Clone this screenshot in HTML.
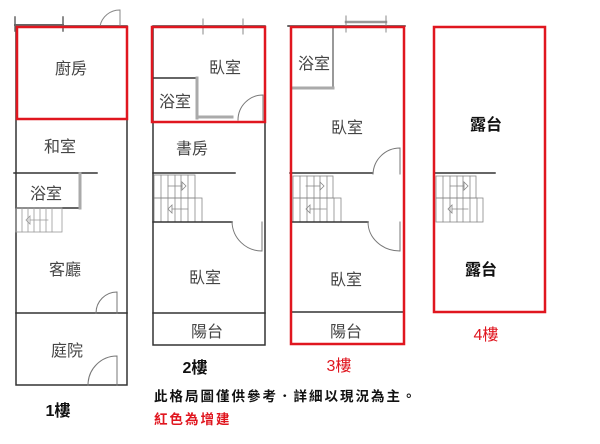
<!DOCTYPE html>
<html><head><meta charset="utf-8"><style>
html,body{margin:0;padding:0;background:#fff;width:600px;height:444px;overflow:hidden}
svg text{font-family:"Liberation Sans","Noto Sans CJK TC",sans-serif}
</style></head><body>
<svg width="600" height="444" viewBox="0 0 600 444" xmlns="http://www.w3.org/2000/svg">
<g fill="none" stroke-linecap="square">
<!-- 1F -->
<rect x="16" y="26" width="111" height="359" stroke="#333" stroke-width="1.5"/>
<line x1="15" y1="25" x2="63" y2="25" stroke="#666" stroke-width="2"/>
<line x1="15" y1="17" x2="15" y2="31" stroke="#666" stroke-width="1.5"/>
<line x1="63" y1="17" x2="63" y2="31" stroke="#666" stroke-width="1.5"/>
<path d="M100 26 A20 20 0 0 1 120 10 L120 26" stroke="#888" stroke-width="1"/>
<line x1="14" y1="173" x2="97" y2="173" stroke="#333" stroke-width="1.5"/>
<line x1="16" y1="208" x2="80" y2="208" stroke="#333" stroke-width="1.5"/>
<line x1="80" y1="174" x2="80" y2="208" stroke="#aaa" stroke-width="3"/>
<g stroke="#999" stroke-width="0.8">
<rect x="16" y="208" width="46" height="24"/>
<line x1="22" y1="208" x2="22" y2="232"/><line x1="28" y1="208" x2="28" y2="232"/><line x1="34" y1="208" x2="34" y2="232"/><line x1="40" y1="208" x2="40" y2="232"/><line x1="46" y1="208" x2="46" y2="232"/><line x1="52" y1="208" x2="52" y2="232"/>
<line x1="30" y1="220" x2="48" y2="220"/><path d="M30 216 L26 220 L30 224 Z"/>
</g>
<line x1="16" y1="313" x2="127" y2="313" stroke="#333" stroke-width="1.5"/>
<path d="M96 313 A21 21 0 0 1 117 292 L117 313" stroke="#777" stroke-width="1"/>
<path d="M88 385 A29 29 0 0 1 117 356 L117 385" stroke="#777" stroke-width="1"/>
<rect x="17" y="27" width="110" height="92" stroke="#e0161f" stroke-width="2.5"/>

<!-- 2F -->
<rect x="153" y="26" width="112" height="319" stroke="#333" stroke-width="1.5"/>
<line x1="203" y1="19" x2="203" y2="34" stroke="#888" stroke-width="1"/>
<line x1="243" y1="19" x2="243" y2="34" stroke="#888" stroke-width="1"/>
<line x1="153" y1="78" x2="197" y2="78" stroke="#333" stroke-width="1.5"/>
<line x1="197" y1="78" x2="197" y2="118" stroke="#aaa" stroke-width="3"/>
<line x1="197" y1="117" x2="232" y2="117" stroke="#aaa" stroke-width="3"/>
<path d="M238 120 A25 25 0 0 1 263 95 L263 120" stroke="#777" stroke-width="1"/>
<line x1="153" y1="173" x2="235" y2="173" stroke="#333" stroke-width="1.5"/>
<g stroke="#888" stroke-width="0.8">
<rect x="154" y="175" width="41" height="23"/><rect x="154" y="198" width="48" height="24"/>
<line x1="161" y1="175" x2="161" y2="222"/><line x1="168" y1="175" x2="168" y2="222"/><line x1="175" y1="175" x2="175" y2="222"/><line x1="181" y1="175" x2="181" y2="222"/><line x1="188" y1="175" x2="188" y2="222"/><line x1="195" y1="198" x2="195" y2="222"/>
<line x1="168" y1="186" x2="182" y2="186"/><path d="M182 182 L186 186 L182 190 Z"/>
<line x1="172" y1="209" x2="188" y2="209"/><path d="M172 205 L168 209 L172 213 Z"/>
</g>
<line x1="153" y1="222" x2="232" y2="222" stroke="#333" stroke-width="1.5"/>
<path d="M232 222 A30 30 0 0 0 262 251 L262 222" stroke="#777" stroke-width="1"/>
<line x1="153" y1="313" x2="265" y2="313" stroke="#333" stroke-width="1.5"/>
<rect x="152" y="27" width="113" height="95" stroke="#e0161f" stroke-width="2.5"/>

<!-- 3F -->
<line x1="288" y1="26" x2="405" y2="26" stroke="#333" stroke-width="1.5"/>
<line x1="346" y1="22" x2="386" y2="22" stroke="#999" stroke-width="2.5"/>
<line x1="346" y1="16" x2="346" y2="32" stroke="#888" stroke-width="1"/>
<line x1="386" y1="16" x2="386" y2="32" stroke="#888" stroke-width="1"/>
<line x1="333" y1="28" x2="333" y2="88" stroke="#999" stroke-width="2"/>
<line x1="292" y1="88" x2="333" y2="88" stroke="#aaa" stroke-width="3"/>
<line x1="290" y1="173" x2="372" y2="173" stroke="#333" stroke-width="1.5"/>
<path d="M373 174 A27 27 0 0 1 400 148 L400 174" stroke="#777" stroke-width="1"/>
<g stroke="#888" stroke-width="0.8">
<rect x="293" y="176" width="40" height="22"/><rect x="293" y="198" width="48" height="24"/>
<line x1="300" y1="176" x2="300" y2="222"/><line x1="307" y1="176" x2="307" y2="222"/><line x1="314" y1="176" x2="314" y2="222"/><line x1="320" y1="176" x2="320" y2="222"/><line x1="327" y1="176" x2="327" y2="222"/><line x1="334" y1="198" x2="334" y2="222"/>
<line x1="306" y1="186" x2="320" y2="186"/><path d="M320 182 L324 186 L320 190 Z"/>
<line x1="310" y1="209" x2="326" y2="209"/><path d="M310 205 L306 209 L310 213 Z"/>
</g>
<line x1="291" y1="222" x2="368" y2="222" stroke="#333" stroke-width="1.5"/>
<path d="M368 222 A32 29 0 0 0 400 251 L400 222" stroke="#777" stroke-width="1"/>
<line x1="291" y1="312" x2="404" y2="312" stroke="#333" stroke-width="1.5"/>
<rect x="291" y="27" width="113" height="317" stroke="#e0161f" stroke-width="2.5"/>

<!-- 4F -->
<line x1="435" y1="173" x2="495" y2="173" stroke="#333" stroke-width="1.5"/>
<g stroke="#888" stroke-width="0.8">
<rect x="436" y="176" width="40" height="22"/><rect x="436" y="198" width="47" height="24"/>
<line x1="443" y1="176" x2="443" y2="222"/><line x1="450" y1="176" x2="450" y2="222"/><line x1="457" y1="176" x2="457" y2="222"/><line x1="463" y1="176" x2="463" y2="222"/><line x1="470" y1="176" x2="470" y2="222"/><line x1="477" y1="198" x2="477" y2="222"/>
<line x1="450" y1="186" x2="464" y2="186"/><path d="M464 182 L468 186 L464 190 Z"/>
<line x1="452" y1="209" x2="468" y2="209"/><path d="M452 205 L448 209 L452 213 Z"/>
</g>
<rect x="434" y="27" width="111" height="285" stroke="#e0161f" stroke-width="2.5"/>
</g>

<g font-size="16" fill="#444" text-anchor="middle">
<text x="71" y="74">廚房</text>
<text x="60" y="152">和室</text>
<text x="46" y="199">浴室</text>
<text x="65" y="275">客廳</text>
<text x="67" y="356">庭院</text>
<text x="225" y="73">臥室</text>
<text x="175" y="107">浴室</text>
<text x="192" y="154">書房</text>
<text x="205" y="283">臥室</text>
<text x="207" y="337">陽台</text>
<text x="314" y="69">浴室</text>
<text x="347" y="133">臥室</text>
<text x="346" y="285">臥室</text>
<text x="346" y="337">陽台</text>
</g>
<g font-size="16" font-weight="bold" fill="#111" text-anchor="middle">
<text x="486" y="130">露台</text>
<text x="481" y="275">露台</text>
<text x="195" y="373">2樓</text>
<text x="58" y="416">1樓</text>
</g>
<g font-size="16" fill="#e0161f" text-anchor="middle">
<text x="339" y="371">3樓</text>
<text x="486" y="340">4樓</text>
</g>
<text x="154" y="401" font-size="13.5" font-weight="bold" fill="#111" letter-spacing="2">此格局圖僅供參考．詳細以現況為主。</text>
<text x="154" y="424" font-size="13.5" font-weight="bold" fill="#e0161f" letter-spacing="2">紅色為增建</text>
</svg>
</body></html>
